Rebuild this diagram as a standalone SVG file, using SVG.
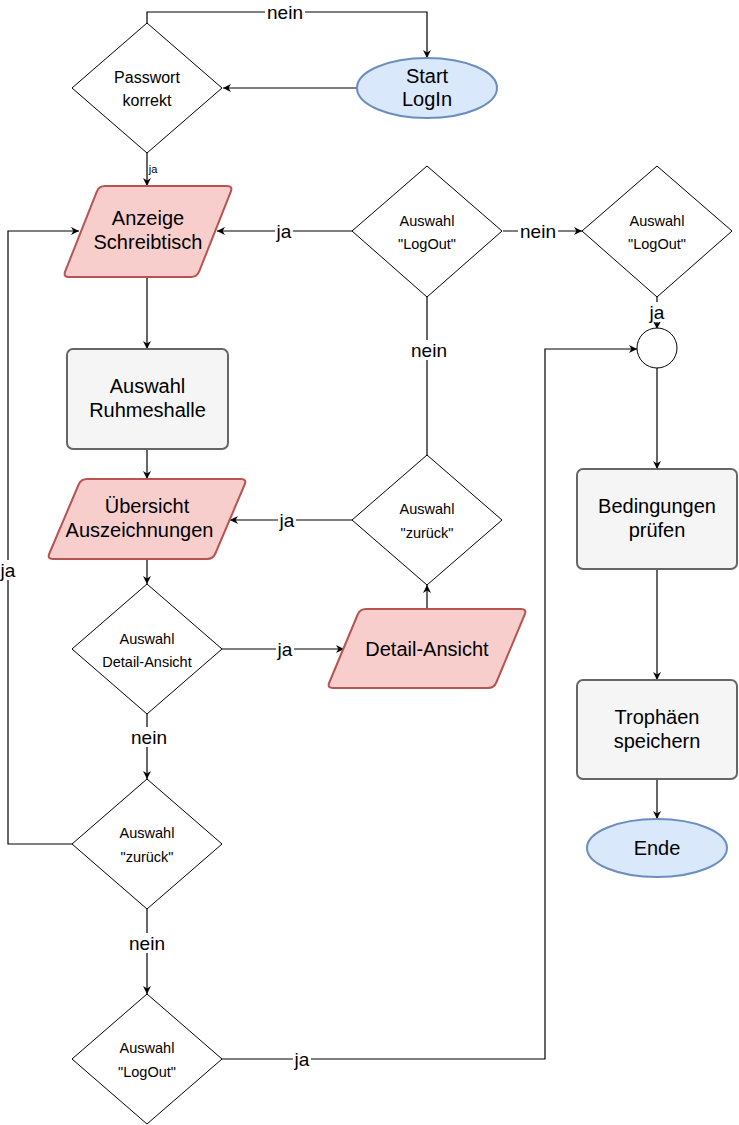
<svg xmlns="http://www.w3.org/2000/svg" width="739" height="1125" viewBox="0 0 739 1125">
<style>
text{font-family:"Liberation Sans",Arial,sans-serif;fill:#000;text-anchor:middle}
.n{font-size:20px}
.d{font-size:14.5px}
.p16{font-size:16px}
.l{font-size:19px}
.s{font-size:11px}
.dia{fill:#fff;stroke:#000;stroke-width:1}
.blue{fill:#dae8fc;stroke:#6c8ebf;stroke-width:2}
.red{fill:#f8cecc;stroke:#b85450;stroke-width:2}
.gray{fill:#f5f5f5;stroke:#666;stroke-width:2}
.e{fill:none;stroke:#000;stroke-width:1.2}
.a{marker-end:url(#arr)}
.bg{fill:#fff}
</style>
<defs>
<marker id="arr" viewBox="0 0 10 10" refX="10" refY="5" markerWidth="8" markerHeight="8" markerUnits="userSpaceOnUse" orient="auto">
<path d="M0,0 L10,5 L0,10 L3,5 z" fill="#000"/>
</marker>
</defs>
<rect width="739" height="1125" fill="#fff"/>
<g id="connectors">
<path class="e a" d="M147,23 V12 H427 V58"/>
<path class="e a" d="M357,88 H223"/>
<path class="e a" d="M147,153 V186"/>
<path class="e a" d="M147,277 V349"/>
<path class="e a" d="M147,449 V479"/>
<path class="e a" d="M147,559 V584"/>
<path class="e a" d="M222,649 H344"/>
<path class="e a" d="M427,609 V585"/>
<path class="e a" d="M352,520 H230"/>
<path class="e" d="M427,455 V297"/>
<path class="e a" d="M352,231 H217"/>
<path class="e a" d="M503,231 H582"/>
<path class="e a" d="M657,297 V329"/>
<path class="e a" d="M147,714 V779"/>
<path class="e a" d="M72,844 H8 V231 H79"/>
<path class="e a" d="M147,909 V994"/>
<path class="e a" d="M222,1059 H545 V349 H637"/>
<path class="e a" d="M657,368 V469"/>
<path class="e a" d="M657,569 V680"/>
<path class="e a" d="M657,779 V819"/>
<rect class="bg" x="265" y="2" width="40" height="20"/><text class="l" x="285" y="19">nein</text>
<rect class="bg" x="149" y="163" width="9" height="12"/><text class="s" x="153" y="173">ja</text>
<rect class="bg" x="275" y="221" width="18" height="20"/><text class="l" x="284" y="238">ja</text>
<rect class="bg" x="518" y="221" width="40" height="20"/><text class="l" x="538" y="238">nein</text>
<rect class="bg" x="648" y="302" width="18" height="20"/><text class="l" x="657" y="319">ja</text>
<rect class="bg" x="409" y="340" width="40" height="20"/><text class="l" x="429" y="357">nein</text>
<rect class="bg" x="278" y="510" width="18" height="20"/><text class="l" x="287" y="527">ja</text>
<rect class="bg" x="276" y="639" width="18" height="20"/><text class="l" x="285" y="656">ja</text>
<rect class="bg" x="129" y="727" width="40" height="20"/><text class="l" x="149" y="744">nein</text>
<rect class="bg" x="0" y="560" width="16" height="20"/><text class="l" x="8" y="577">ja</text>
<rect class="bg" x="127" y="933" width="40" height="20"/><text class="l" x="147" y="950">nein</text>
<rect class="bg" x="293" y="1049" width="18" height="20"/><text class="l" x="302" y="1066">ja</text>
</g>
<g id="start">
<ellipse class="blue" cx="427" cy="88" rx="70" ry="30"/>
<text class="n" x="427" y="83">Start</text>
<text class="n" x="427" y="106">LogIn</text>
</g>
<g id="passwort">
<polygon class="dia" points="147,23 222,88 147,153 72,88"/>
<text class="p16" x="147" y="82.5">Passwort</text>
<text class="p16" x="147" y="105.5">korrekt</text>
</g>
<g id="anzeige">
<path class="red" d="M105,186 L227,186 Q233,186 230.8,191.6 L199.2,271.4 Q197,277 191,277 L69,277 Q63,277 65.2,271.4 L96.8,191.6 Q99,186 105,186 Z"/>
<text class="n" x="148" y="225">Anzeige</text>
<text class="n" x="148" y="249">Schreibtisch</text>
</g>
<g id="ruhmeshalle">
<rect class="gray" x="67" y="349" width="161" height="100" rx="6"/>
<text class="n" x="147.5" y="393">Auswahl</text>
<text class="n" x="147.5" y="417">Ruhmeshalle</text>
</g>
<g id="uebersicht">
<path class="red" d="M87,479 L241,479 Q247,479 244.65,484.5 L215.35,553.5 Q213,559 207,559 L53,559 Q47,559 49.35,553.5 L78.65,484.5 Q81,479 87,479 Z"/>
<text class="n" x="147" y="513">Übersicht</text>
<text class="n" x="139.5" y="537">Auszeichnungen</text>
</g>
<g id="detailwahl">
<polygon class="dia" points="147,584 222,649 147,714 72,649"/>
<text class="d" x="147" y="644">Auswahl</text>
<text class="d" x="147" y="667">Detail-Ansicht</text>
</g>
<g id="detailansicht">
<path class="red" d="M366,609 L521,609 Q527,609 524.7,614.5 L496.3,682.5 Q494,688 488,688 L333,688 Q327,688 329.3,682.5 L357.7,614.5 Q360,609 366,609 Z"/>
<text class="n" x="427" y="656">Detail-Ansicht</text>
</g>
<g id="zurueck1">
<polygon class="dia" points="427,455 502,520 427,585 352,520"/>
<text class="d" x="427" y="514">Auswahl</text>
<text class="d" x="427" y="538">"zurück"</text>
</g>
<g id="logout1">
<polygon class="dia" points="427,166 502,231 427,297 352,231"/>
<text class="d" x="427" y="226">Auswahl</text>
<text class="d" x="427" y="249">"LogOut"</text>
</g>
<g id="logout2">
<polygon class="dia" points="657,166 732,231 657,297 582,231"/>
<text class="d" x="657" y="226">Auswahl</text>
<text class="d" x="657" y="249">"LogOut"</text>
</g>
<g id="join">
<circle cx="657" cy="348" r="20" fill="#fff" stroke="#000" stroke-width="1"/>
</g>
<g id="bedingungen">
<rect class="gray" x="577" y="469" width="160" height="100" rx="6"/>
<text class="n" x="657" y="513">Bedingungen</text>
<text class="n" x="657" y="537">prüfen</text>
</g>
<g id="trophaeen">
<rect class="gray" x="577" y="680" width="160" height="99" rx="6"/>
<text class="n" x="657" y="724">Trophäen</text>
<text class="n" x="657" y="748">speichern</text>
</g>
<g id="ende">
<ellipse class="blue" cx="657" cy="848" rx="70" ry="29"/>
<text class="n" x="657" y="855">Ende</text>
</g>
<g id="zurueck2">
<polygon class="dia" points="147,779 222,844 147,909 72,844"/>
<text class="d" x="147" y="838">Auswahl</text>
<text class="d" x="147" y="862">"zurück"</text>
</g>
<g id="logout3">
<polygon class="dia" points="147,994 222,1059 147,1124 72,1059"/>
<text class="d" x="147" y="1053">Auswahl</text>
<text class="d" x="147" y="1077">"LogOut"</text>
</g>
</svg>
